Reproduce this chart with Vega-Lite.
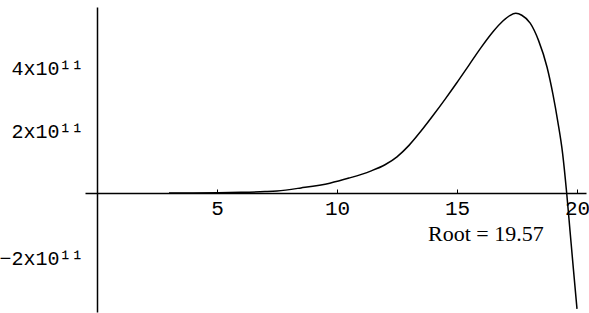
{
  "$schema": "https://vega.github.io/schema/vega-lite/v6.json",
  "width": 501,
  "height": 305,
  "autosize": {"type": "none"},
  "padding": {"left": 85, "top": 7, "right": 3, "bottom": 1},
  "background": "white",
  "config": {"view": {"stroke": null}},
  "layer": [
    {
      "data": {"values": [
        {"x": 3, "y": 0},
        {"x": 4, "y": 3e8},
        {"x": 5, "y": 1e9},
        {"x": 6, "y": 2.2e9},
        {"x": 7, "y": 4.5e9},
        {"x": 7.5, "y": 6.5e9},
        {"x": 8.5, "y": 1.6e10},
        {"x": 9.7, "y": 3.1e10},
        {"x": 10.5, "y": 4.7e10},
        {"x": 11.4, "y": 6.9e10},
        {"x": 12.0, "y": 8.9e10},
        {"x": 12.5, "y": 1.14e11},
        {"x": 13.0, "y": 1.5e11},
        {"x": 13.5, "y": 1.95e11},
        {"x": 14.0, "y": 2.44e11},
        {"x": 14.5, "y": 2.95e11},
        {"x": 15.0, "y": 3.48e11},
        {"x": 15.5, "y": 4.03e11},
        {"x": 16.0, "y": 4.58e11},
        {"x": 16.5, "y": 5.08e11},
        {"x": 16.9, "y": 5.41e11},
        {"x": 17.2, "y": 5.59e11},
        {"x": 17.45, "y": 5.66e11},
        {"x": 17.7, "y": 5.6e11},
        {"x": 18.05, "y": 5.35e11},
        {"x": 18.4, "y": 4.8e11},
        {"x": 18.75, "y": 3.97e11},
        {"x": 19.0, "y": 3.1e11},
        {"x": 19.2, "y": 2.25e11},
        {"x": 19.4, "y": 1.25e11},
        {"x": 19.57, "y": 0},
        {"x": 19.71, "y": -1.2e11},
        {"x": 19.85, "y": -2.4e11},
        {"x": 20.0, "y": -3.65e11}
      ]},
      "mark": {"type": "line", "color": "black", "strokeWidth": 1.5, "interpolate": "monotone"},
      "encoding": {
        "x": {
          "field": "x", "type": "quantitative",
          "scale": {"domain": [-0.5, 20.375], "nice": false, "zero": false},
          "axis": {
            "orient": "bottom", "offset": -119, "title": null, "grid": false,
            "values": [5, 10, 15, 20], "tickSize": -4, "tickColor": "black", "tickWidth": 1,
            "domainColor": "black", "domainWidth": 1.5,
            "labelFont": "Liberation Mono", "labelFontSize": 21, "labelColor": "black",
            "labelPadding": 8
          }
        },
        "y": {
          "field": "y", "type": "quantitative",
          "scale": {"domain": [-3.75e11, 5.86e11], "nice": false, "zero": false},
          "axis": {
            "orient": "left", "offset": -12, "title": null, "grid": false,
            "values": [-2e11, 2e11, 4e11], "ticks": false,
            "domainColor": "black", "domainWidth": 1.5,
            "labelExpr": "format(datum.value / 1e11, 'd') + 'x10¹¹'",
            "labelFont": "Liberation Mono", "labelFontSize": 20, "labelColor": "black",
            "labelPadding": 14, "labelOffset": 2
          }
        }
      }
    },
    {
      "data": {"values": [{"x": 16.2, "y": -1.3e11, "label": "Root = 19.57"}]},
      "mark": {"type": "text", "font": "Liberation Serif", "fontSize": 22, "color": "black", "align": "center", "baseline": "middle"},
      "encoding": {
        "x": {"field": "x", "type": "quantitative"},
        "y": {"field": "y", "type": "quantitative"},
        "text": {"field": "label"}
      }
    }
  ]
}
